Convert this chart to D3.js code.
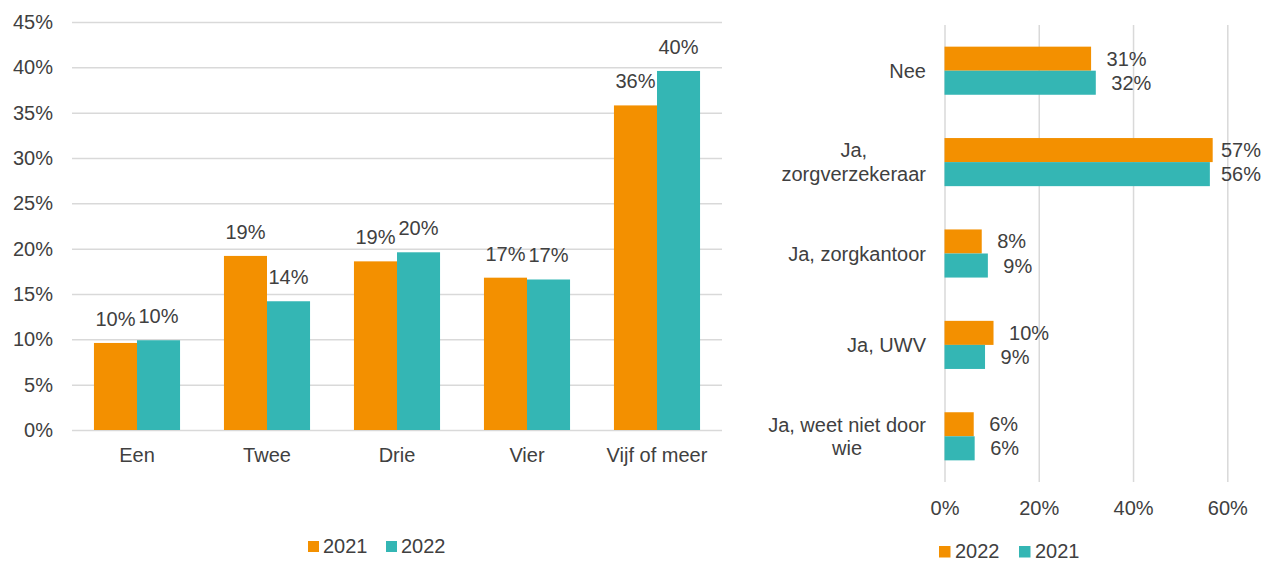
<!DOCTYPE html>
<html>
<head>
<meta charset="utf-8">
<script src="https://cdn.jsdelivr.net/npm/d3@7"></script>
<style>
  html, body { margin: 0; padding: 0; background: #fff; }
  svg { display: block; }
  text { font-family: "Liberation Sans", Arial, sans-serif; fill: #404040; }
</style>
</head>
<body>
<svg id="chart" width="1264" height="562"></svg>
<script>
// ---------- Data: left chart ----------
const leftCategories = ["Een", "Twee", "Drie", "Vier", "Vijf of meer"];
const leftSeriesNames = ["2021", "2022"];
const left2021 = [0.096, 0.192, 0.186, 0.168, 0.358];
const left2022 = [0.099, 0.142, 0.196, 0.166, 0.396];
const leftTicks = [0, 0.05, 0.10, 0.15, 0.20, 0.25, 0.30, 0.35, 0.40, 0.45];

// ---------- Data: right chart ----------
const rightCategories = ["Nee", "Ja, zorgverzekeraar", "Ja, zorgkantoor", "Ja, UWV", "Ja, weet niet door wie"];
const rightSeriesNames = ["2022", "2021"];
const right2022 = [0.311, 0.569, 0.079, 0.104, 0.062];
const right2021 = [0.321, 0.563, 0.092, 0.086, 0.064];
const rightTicks = [0, 0.2, 0.4, 0.6];

const colors = { "2021": "#F39000", "2022": "#34B6B4" };
const rightColors = { "2022": "#F39000", "2021": "#34B6B4" };
const pct = d3.format(".0%");
const svg = d3.select("#chart");
const FONT = 20;

// ================= LEFT CHART =================
const L = { left: 72, right: 722, top: 22, bottom: 430 };
const x0 = d3.scaleBand().domain(leftCategories).range([L.left, L.right]).padding(0);
const x1 = d3.scaleBand().domain(leftSeriesNames).range([0, x0.bandwidth()]).paddingInner(0).paddingOuter(0.51);
const yL = d3.scaleLinear().domain([0, 0.45]).range([L.bottom, L.top]);

const gyL = svg.append("g").attr("transform", `translate(${L.left},0)`)
  .call(d3.axisLeft(yL).tickValues(leftTicks).tickFormat(pct)
    .tickSize(-(L.right - L.left)).tickPadding(19));
gyL.select(".domain").remove();
gyL.selectAll(".tick line").attr("stroke", "#d9d9d9").attr("stroke-width", 1.5);
gyL.selectAll(".tick text").attr("font-size", FONT).attr("fill", "#404040");

const gxL = svg.append("g").attr("transform", `translate(0,${L.bottom})`)
  .call(d3.axisBottom(x0).tickSize(0).tickPadding(18));
gxL.select(".domain").remove();
gxL.selectAll(".tick text").attr("font-size", FONT).attr("fill", "#404040");

const leftData = leftCategories.map((c, i) => ({
  cat: c,
  vals: [{ s: "2021", v: left2021[i] }, { s: "2022", v: left2022[i] }]
}));

const groupsL = svg.append("g").selectAll("g").data(leftData).join("g")
  .attr("transform", d => `translate(${x0(d.cat)},0)`);
groupsL.selectAll("rect").data(d => d.vals).join("rect")
  .attr("x", d => x1(d.s))
  .attr("width", x1.bandwidth())
  .attr("y", d => yL(d.v))
  .attr("height", d => yL(0) - yL(d.v))
  .attr("fill", d => colors[d.s]);
groupsL.selectAll("text").data(d => d.vals).join("text")
  .attr("x", d => x1(d.s) + x1.bandwidth() / 2)
  .attr("y", d => yL(d.v) - 24)
  .attr("dy", "0.35em")
  .attr("text-anchor", "middle")
  .attr("font-size", FONT)
  .text(d => pct(d.v));

// Left legend
const legL = svg.append("g");
const legLItems = [{ s: "2021", x: 308 }, { s: "2022", x: 386 }];
legL.selectAll("rect").data(legLItems).join("rect")
  .attr("x", d => d.x).attr("y", 541).attr("width", 11).attr("height", 11)
  .attr("fill", d => colors[d.s]);
legL.selectAll("text").data(legLItems).join("text")
  .attr("x", d => d.x + 15).attr("y", 553).attr("font-size", FONT)
  .text(d => d.s);

// ================= RIGHT CHART =================
const R = { left: 944.5, right: 1227.3, top: 25, bottom: 482 };
const xR = d3.scaleLinear().domain([0, 0.6]).range([R.left, R.right]);
const yR0 = d3.scaleBand().domain(rightCategories).range([R.top, R.bottom]).padding(0);
const yR1 = d3.scaleBand().domain(rightSeriesNames).range([0, yR0.bandwidth()]).paddingInner(0).paddingOuter(0.9);

const gxR = svg.append("g").attr("transform", `translate(0,${R.bottom})`)
  .call(d3.axisBottom(xR).tickValues(rightTicks).tickFormat(pct)
    .tickSize(-(R.bottom - R.top)).tickPadding(19));
gxR.select(".domain").remove();
gxR.selectAll(".tick line").attr("stroke", "#d9d9d9").attr("stroke-width", 1.5);
gxR.selectAll(".tick text").attr("font-size", FONT).attr("fill", "#404040");

const gyR = svg.append("g").attr("transform", `translate(${R.left},0)`)
  .call(d3.axisLeft(yR0).tickSize(0).tickPadding(18.5));
gyR.select(".domain").remove();
gyR.selectAll(".tick text").attr("font-size", FONT).attr("fill", "#404040")
  .each(function () {
    const t = d3.select(this);
    const words = t.text().split(/\s+/);
    const xRight = +t.attr("x");
    t.text(null);
    const maxW = 172;
    const lines = [];
    let line = [];
    const probe = t.append("tspan");
    words.forEach(w => {
      line.push(w);
      probe.text(line.join(" "));
      if (probe.node().getComputedTextLength() > maxW && line.length > 1) {
        line.pop();
        lines.push(line.join(" "));
        line = [w];
      }
    });
    lines.push(line.join(" "));
    // widest line
    let widest = 0;
    lines.forEach(ln => {
      probe.text(ln);
      widest = Math.max(widest, probe.node().getComputedTextLength());
    });
    probe.remove();
    const lh = 23.5;
    const cx = xRight + (lines.length > 1 ? -widest / 2 : 0);
    t.attr("text-anchor", lines.length > 1 ? "middle" : "end");
    lines.forEach((ln, i) => {
      t.append("tspan").attr("x", cx)
        .attr("y", 0)
        .attr("dy", (i - (lines.length - 1) / 2) * lh + 7)
        .text(ln);
    });
  });

const rightData = rightCategories.map((c, i) => ({
  cat: c,
  vals: [{ s: "2022", v: right2022[i] }, { s: "2021", v: right2021[i] }]
}));

const groupsR = svg.append("g").selectAll("g").data(rightData).join("g")
  .attr("transform", d => `translate(0,${yR0(d.cat)})`);
groupsR.selectAll("rect").data(d => d.vals).join("rect")
  .attr("x", xR(0))
  .attr("y", d => yR1(d.s))
  .attr("height", yR1.bandwidth())
  .attr("width", d => xR(d.v) - xR(0))
  .attr("fill", d => rightColors[d.s]);
groupsR.selectAll("text").data(d => d.vals).join("text")
  .attr("font-size", FONT)
  .attr("y", d => yR1(d.s) + yR1.bandwidth() / 2)
  .attr("dy", "0.35em")
  .text(d => pct(d.v))
  .attr("x", function (d) {
    const w = this.getComputedTextLength();
    return Math.min(xR(d.v) + 15.5, 1261 - w);
  });

// Right legend
const legR = svg.append("g");
const legRItems = [{ s: "2022", x: 939 }, { s: "2021", x: 1019 }];
legR.selectAll("rect").data(legRItems).join("rect")
  .attr("x", d => d.x).attr("y", 546).attr("width", 11.5).attr("height", 11.5)
  .attr("fill", d => rightColors[d.s]);
legR.selectAll("text").data(legRItems).join("text")
  .attr("x", d => d.x + 16).attr("y", 557.5).attr("font-size", FONT)
  .text(d => d.s);
</script>
</body>
</html>
